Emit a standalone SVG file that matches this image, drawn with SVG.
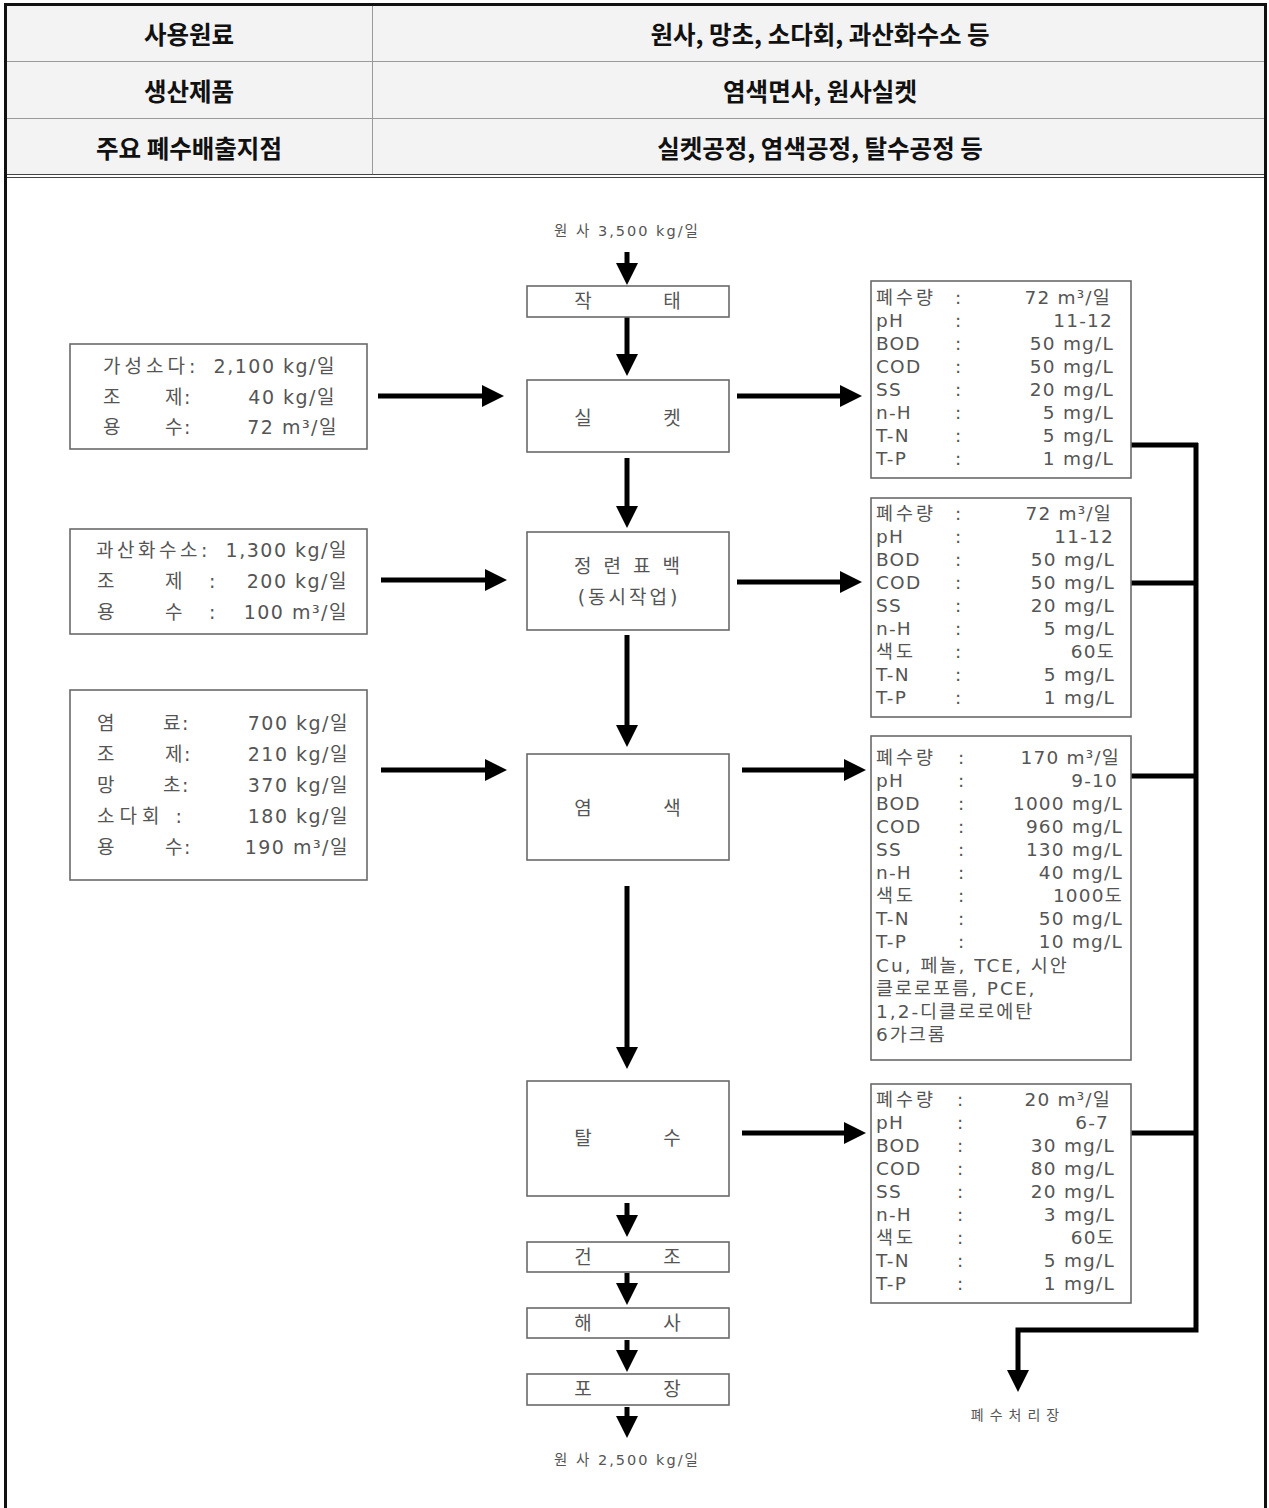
<svg xmlns="http://www.w3.org/2000/svg" width="1269" height="1508" viewBox="0 0 1269 1508">
  <style>
    .hdr { font-family: "Noto Sans CJK KR", "Liberation Sans", sans-serif; font-size: 24.5px; font-weight: bold; fill: #111; text-anchor: middle; dominant-baseline: central; }
    .t { font-family: "DejaVu Sans", "Noto Sans CJK KR", sans-serif; fill: #555; dominant-baseline: central; }
    .lt { font-size: 19px; letter-spacing: 1.5px; }
    .lk { letter-spacing: 4px; }
    .rt { font-size: 18.5px; letter-spacing: 1.2px; }
    .rk { letter-spacing: 3px; }
    .ct { font-size: 19px; text-anchor: middle; }
    .sm { font-size: 14.5px; text-anchor: middle; letter-spacing: 2px; }
    .end { text-anchor: end; }
    .box { fill: #fff; stroke: #6a6a6a; stroke-width: 1.6; }
    .flow { stroke: #000; stroke-width: 5; fill: none; marker-end: url(#head); }
    .pipe { stroke: #000; stroke-width: 5; fill: none; }
    .grid { stroke: #9a9a9a; stroke-width: 1; }
  </style>
  <defs>
    <marker id="head" markerUnits="userSpaceOnUse" markerWidth="22" markerHeight="22" refX="12" refY="11" orient="auto">
      <path d="M0,0 L22,11 L0,22 z" fill="#000"/>
    </marker>
  </defs>

  <rect width="1269" height="1508" fill="#fff"/>

  <!-- summary table -->
  <g id="summary">
    <rect x="6" y="5" width="1260" height="169" fill="#f3f3f3"/>
    <line class="grid" x1="6" y1="61.5" x2="1266" y2="61.5"/>
    <line class="grid" x1="6" y1="118.5" x2="1266" y2="118.5"/>
    <line class="grid" x1="372.5" y1="5" x2="372.5" y2="174"/>
    <line x1="6" y1="174.5" x2="1266" y2="174.5" stroke="#444" stroke-width="1"/>
    <line x1="6" y1="177.5" x2="1266" y2="177.5" stroke="#444" stroke-width="1"/>
    <text class="hdr" x="189" y="33">사용원료</text>
    <text class="hdr" x="820" y="33">원사, 망초, 소다회, 과산화수소 등</text>
    <text class="hdr" x="189" y="90">생산제품</text>
    <text class="hdr" x="820" y="90">염색면사, 원사실켓</text>
    <text class="hdr" x="189" y="147">주요 폐수배출지점</text>
    <text class="hdr" x="820" y="147">실켓공정, 염색공정, 탈수공정 등</text>
  </g>
  <rect x="5.5" y="4.5" width="1260" height="1512" fill="none" stroke="#111" stroke-width="3"/>

  <!-- connectors -->
  <g id="connectors">
    <line class="flow" x1="627" y1="252" x2="627" y2="275"/>
    <line class="flow" x1="627" y1="317" x2="627" y2="366"/>
    <line class="flow" x1="627" y1="458" x2="627" y2="518"/>
    <line class="flow" x1="627" y1="635" x2="627" y2="737"/>
    <line class="flow" x1="627" y1="886" x2="627" y2="1059"/>
    <line class="flow" x1="627" y1="1203" x2="627" y2="1227"/>
    <line class="flow" x1="627" y1="1273" x2="627" y2="1295"/>
    <line class="flow" x1="627" y1="1340" x2="627" y2="1362"/>
    <line class="flow" x1="627" y1="1407" x2="627" y2="1428"/>

    <line class="flow" x1="378" y1="396" x2="494" y2="396"/>
    <line class="flow" x1="381" y1="580" x2="497" y2="580"/>
    <line class="flow" x1="381" y1="770" x2="497" y2="770"/>

    <line class="flow" x1="737" y1="396" x2="852" y2="396"/>
    <line class="flow" x1="737" y1="582" x2="852" y2="582"/>
    <line class="flow" x1="742" y1="770" x2="856" y2="770"/>
    <line class="flow" x1="742" y1="1133" x2="856" y2="1133"/>

    <line class="pipe" x1="1131" y1="445" x2="1198" y2="445"/>
    <line class="pipe" x1="1131" y1="583" x2="1198" y2="583"/>
    <line class="pipe" x1="1131" y1="776" x2="1198" y2="776"/>
    <line class="pipe" x1="1131" y1="1133" x2="1198" y2="1133"/>
    <path class="flow" d="M1196,443 V1330 H1018 V1382" stroke-linejoin="miter"/>
  </g>

  <text class="t sm" x="627" y="231">원 사 3,500 kg/일</text>
  <text class="t sm" x="627" y="1460">원 사 2,500 kg/일</text>
  <text class="t sm" x="1018" y="1415" style="font-size:14px;letter-spacing:6px">폐수처리장</text>

  <!-- process steps -->
  <g id="step-jaktae">
    <rect class="box" x="527" y="286" width="202" height="31"/>
    <text class="t ct" x="583" y="301">작</text><text class="t ct" x="672" y="301">태</text>
  </g>
  <g id="step-silket">
    <rect class="box" x="527" y="380" width="202" height="72"/>
    <text class="t ct" x="583" y="418">실</text><text class="t ct" x="672" y="418">켓</text>
  </g>
  <g id="step-bleach">
    <rect class="box" x="527" y="532" width="202" height="98"/>
    <text class="t ct" x="633" y="566" style="letter-spacing:12px">정련표백</text>
    <text class="t ct" x="629" y="597" style="letter-spacing:3px">(동시작업)</text>
  </g>
  <g id="step-dye">
    <rect class="box" x="527" y="754" width="202" height="106"/>
    <text class="t ct" x="583" y="808">염</text><text class="t ct" x="672" y="808">색</text>
  </g>
  <g id="step-dewater">
    <rect class="box" x="527" y="1081" width="202" height="115"/>
    <text class="t ct" x="583" y="1138">탈</text><text class="t ct" x="672" y="1138">수</text>
  </g>
  <g id="step-dry">
    <rect class="box" x="527" y="1242" width="202" height="30"/>
    <text class="t ct" x="583" y="1257">건</text><text class="t ct" x="672" y="1257">조</text>
  </g>
  <g id="step-reel">
    <rect class="box" x="527" y="1308" width="202" height="30"/>
    <text class="t ct" x="583" y="1323">해</text><text class="t ct" x="672" y="1323">사</text>
  </g>
  <g id="step-pack">
    <rect class="box" x="527" y="1374" width="202" height="31"/>
    <text class="t ct" x="583" y="1389">포</text><text class="t ct" x="672" y="1389">장</text>
  </g>

  <!-- chemical inputs -->
  <g id="input-silket">
    <rect class="box" x="70" y="344" width="297" height="105"/>
    <text class="t lt lk" x="103" y="366">가성소다:</text><text class="t lt end" x="336" y="366">2,100 kg/일</text>
    <text class="t lt" x="103" y="397">조</text><text class="t lt" x="165" y="397">제:</text><text class="t lt end" x="336" y="397">40 kg/일</text>
    <text class="t lt" x="103" y="427">용</text><text class="t lt" x="165" y="427">수:</text><text class="t lt end" x="338" y="427">72 m³/일</text>
  </g>
  <g id="input-bleach">
    <rect class="box" x="70" y="529" width="297" height="105"/>
    <text class="t lt" x="96" y="550" style="letter-spacing:3.5px">과산화수소:</text><text class="t lt end" x="348" y="550">1,300 kg/일</text>
    <text class="t lt" x="97" y="581">조</text><text class="t lt" x="165" y="581">제</text><text class="t lt" x="209" y="581">:</text><text class="t lt end" x="348" y="581">200 kg/일</text>
    <text class="t lt" x="97" y="612">용</text><text class="t lt" x="165" y="612">수</text><text class="t lt" x="209" y="612">:</text><text class="t lt end" x="348" y="612">100 m³/일</text>
  </g>
  <g id="input-dye">
    <rect class="box" x="70" y="690" width="297" height="190"/>
    <text class="t lt" x="97" y="723">염</text><text class="t lt" x="163" y="723">료:</text><text class="t lt end" x="349" y="723">700 kg/일</text>
    <text class="t lt" x="97" y="754">조</text><text class="t lt" x="165" y="754">제:</text><text class="t lt end" x="349" y="754">210 kg/일</text>
    <text class="t lt" x="97" y="785">망</text><text class="t lt" x="163" y="785">초:</text><text class="t lt end" x="349" y="785">370 kg/일</text>
    <text class="t lt" x="97" y="816" style="letter-spacing:5px">소다회 :</text><text class="t lt end" x="349" y="816">180 kg/일</text>
    <text class="t lt" x="97" y="847">용</text><text class="t lt" x="165" y="847">수:</text><text class="t lt end" x="349" y="847">190 m³/일</text>
  </g>

  <!-- wastewater quality -->
  <g id="ww-silket">
    <rect class="box" x="871" y="281" width="260" height="197"/>
    <text class="t rt rk" x="876" y="297">폐수량</text><text class="t rt" x="955" y="297">:</text><text class="t rt end" x="1111" y="297">72 m³/일</text>
    <text class="t rt" x="876" y="320">pH</text><text class="t rt" x="955" y="320">:</text><text class="t rt end" x="1113" y="320">11-12</text>
    <text class="t rt" x="876" y="343">BOD</text><text class="t rt" x="955" y="343">:</text><text class="t rt end" x="1114" y="343">50 mg/L</text>
    <text class="t rt" x="876" y="366">COD</text><text class="t rt" x="955" y="366">:</text><text class="t rt end" x="1114" y="366">50 mg/L</text>
    <text class="t rt" x="876" y="389">SS</text><text class="t rt" x="955" y="389">:</text><text class="t rt end" x="1114" y="389">20 mg/L</text>
    <text class="t rt" x="876" y="412">n-H</text><text class="t rt" x="955" y="412">:</text><text class="t rt end" x="1114" y="412">5 mg/L</text>
    <text class="t rt" x="876" y="435">T-N</text><text class="t rt" x="955" y="435">:</text><text class="t rt end" x="1114" y="435">5 mg/L</text>
    <text class="t rt" x="876" y="458">T-P</text><text class="t rt" x="955" y="458">:</text><text class="t rt end" x="1114" y="458">1 mg/L</text>
  </g>
  <g id="ww-bleach">
    <rect class="box" x="871" y="498" width="260" height="219"/>
    <text class="t rt rk" x="876" y="513">폐수량</text><text class="t rt" x="955" y="513">:</text><text class="t rt end" x="1112" y="513">72 m³/일</text>
    <text class="t rt" x="876" y="536">pH</text><text class="t rt" x="955" y="536">:</text><text class="t rt end" x="1114" y="536">11-12</text>
    <text class="t rt" x="876" y="559">BOD</text><text class="t rt" x="955" y="559">:</text><text class="t rt end" x="1115" y="559">50 mg/L</text>
    <text class="t rt" x="876" y="582">COD</text><text class="t rt" x="955" y="582">:</text><text class="t rt end" x="1115" y="582">50 mg/L</text>
    <text class="t rt" x="876" y="605">SS</text><text class="t rt" x="955" y="605">:</text><text class="t rt end" x="1115" y="605">20 mg/L</text>
    <text class="t rt" x="876" y="628">n-H</text><text class="t rt" x="955" y="628">:</text><text class="t rt end" x="1115" y="628">5 mg/L</text>
    <text class="t rt rk" x="876" y="651">색도</text><text class="t rt" x="955" y="651">:</text><text class="t rt end" x="1115" y="651">60도</text>
    <text class="t rt" x="876" y="674">T-N</text><text class="t rt" x="955" y="674">:</text><text class="t rt end" x="1115" y="674">5 mg/L</text>
    <text class="t rt" x="876" y="697">T-P</text><text class="t rt" x="955" y="697">:</text><text class="t rt end" x="1115" y="697">1 mg/L</text>
  </g>
  <g id="ww-dye">
    <rect class="box" x="871" y="736" width="260" height="324"/>
    <text class="t rt rk" x="876" y="757">폐수량</text><text class="t rt" x="958" y="757">:</text><text class="t rt end" x="1120" y="757">170 m³/일</text>
    <text class="t rt" x="876" y="780">pH</text><text class="t rt" x="958" y="780">:</text><text class="t rt end" x="1118" y="780">9-10</text>
    <text class="t rt" x="876" y="803">BOD</text><text class="t rt" x="958" y="803">:</text><text class="t rt end" x="1123" y="803">1000 mg/L</text>
    <text class="t rt" x="876" y="826">COD</text><text class="t rt" x="958" y="826">:</text><text class="t rt end" x="1123" y="826">960 mg/L</text>
    <text class="t rt" x="876" y="849">SS</text><text class="t rt" x="958" y="849">:</text><text class="t rt end" x="1123" y="849">130 mg/L</text>
    <text class="t rt" x="876" y="872">n-H</text><text class="t rt" x="958" y="872">:</text><text class="t rt end" x="1123" y="872">40 mg/L</text>
    <text class="t rt rk" x="876" y="895">색도</text><text class="t rt" x="958" y="895">:</text><text class="t rt end" x="1123" y="895">1000도</text>
    <text class="t rt" x="876" y="918">T-N</text><text class="t rt" x="958" y="918">:</text><text class="t rt end" x="1123" y="918">50 mg/L</text>
    <text class="t rt" x="876" y="941">T-P</text><text class="t rt" x="958" y="941">:</text><text class="t rt end" x="1123" y="941">10 mg/L</text>
    <text class="t rt" x="876" y="965" style="letter-spacing:2px">Cu, 페놀, TCE, 시안</text>
    <text class="t rt" x="876" y="988" style="letter-spacing:2px">클로로포름, PCE,</text>
    <text class="t rt" x="876" y="1011" style="letter-spacing:2px">1,2-디클로로에탄</text>
    <text class="t rt" x="876" y="1034" style="letter-spacing:2px">6가크롬</text>
  </g>
  <g id="ww-dewater">
    <rect class="box" x="871" y="1084" width="260" height="219"/>
    <text class="t rt rk" x="876" y="1099">폐수량</text><text class="t rt" x="957" y="1099">:</text><text class="t rt end" x="1111" y="1099">20 m³/일</text>
    <text class="t rt" x="876" y="1122">pH</text><text class="t rt" x="957" y="1122">:</text><text class="t rt end" x="1109" y="1122">6-7</text>
    <text class="t rt" x="876" y="1145">BOD</text><text class="t rt" x="957" y="1145">:</text><text class="t rt end" x="1115" y="1145">30 mg/L</text>
    <text class="t rt" x="876" y="1168">COD</text><text class="t rt" x="957" y="1168">:</text><text class="t rt end" x="1115" y="1168">80 mg/L</text>
    <text class="t rt" x="876" y="1191">SS</text><text class="t rt" x="957" y="1191">:</text><text class="t rt end" x="1115" y="1191">20 mg/L</text>
    <text class="t rt" x="876" y="1214">n-H</text><text class="t rt" x="957" y="1214">:</text><text class="t rt end" x="1115" y="1214">3 mg/L</text>
    <text class="t rt rk" x="876" y="1237">색도</text><text class="t rt" x="957" y="1237">:</text><text class="t rt end" x="1115" y="1237">60도</text>
    <text class="t rt" x="876" y="1260">T-N</text><text class="t rt" x="957" y="1260">:</text><text class="t rt end" x="1115" y="1260">5 mg/L</text>
    <text class="t rt" x="876" y="1283">T-P</text><text class="t rt" x="957" y="1283">:</text><text class="t rt end" x="1115" y="1283">1 mg/L</text>
  </g>
</svg>
